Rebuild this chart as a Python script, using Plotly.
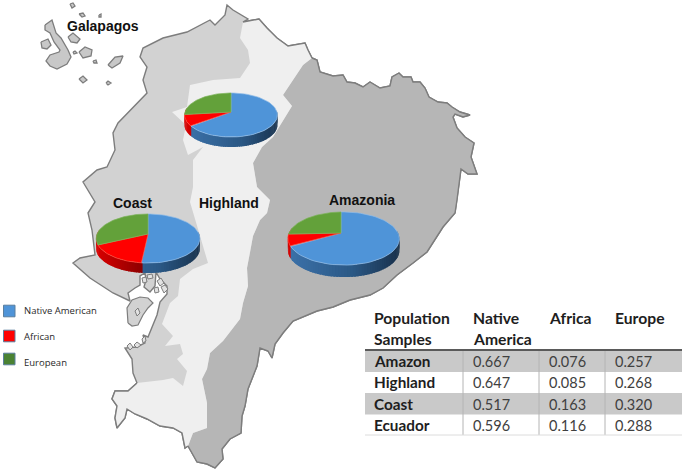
import numpy as np
import plotly.graph_objects as go

# ---------- data ----------
regions = ["Amazon", "Highland", "Coast", "Ecuador"]
native = [0.667, 0.647, 0.517, 0.596]
africa = [0.076, 0.085, 0.163, 0.116]
europe = [0.257, 0.268, 0.320, 0.288]
legend_labels = ["Native American", "African", "European"]
header_line1 = ["Population", "Native", "Africa", "Europe"]
header_line2 = ["Samples", "America", "", ""]
map_labels = ["Galapagos", "Coast", "Highland", "Amazonia"]

# ---------- map outlines (picture pixels) ----------
north_edge = [(243,22),(259,19),(267,28),(277,38),(288,46),(305,43),(308,50),(312,58)]
north_west = [(243,22),(248,19),(233,10),(227,5),(225,15),(215,25),(210,20),(187,32),(163,38),(143,48),(140,57),
              (147,67),(143,80),(147,93),(133,107),(118,123),(113,133),(115,150),(107,167),(97,170),(83,182)]
east_edge = [(312,58),(317,60),(320,72),(333,76),(343,75),(347,82),(355,83),(363,87),(370,82),(380,88),(390,86),
             (392,77),(399,73),(403,77),(411,77),(413,82),(420,82),(425,88),(429,97),(438,102),(447,103),(452,107),
             (460,112),(470,115),(463,117),(455,114),(453,117),(457,128),(465,137),(474,143),(471,157),(477,174),
             (468,174),(461,169),(457,200),(455,213),(443,227),(433,242),(427,252),(413,263),(397,275),(383,288),
             (370,295),(350,300),(333,307),(317,311),(293,321),(283,333),(275,344),(272,358),(268,351),(260,348),
             (257,366),(248,389),(245,406),(242,416),(241,433),(230,439),(222,449),(223,459),(215,468),(207,464),
             (197,462),(188,446)]
south_edge = [(188,446),(185,448),(182,433),(173,428),(160,426),(147,419),(135,414),(127,409),(125,418),(117,428),
              (115,418),(117,406),(112,399),(115,391),(128,391),(137,383)]
west_edge = [(137,383),(133,373),(132,359),(125,348),(137,347),(145,343),(143,335),(148,337),(153,325),(157,315),
             (160,302),(167,294),(167,286),(160,279),(156,272),(155,286),(150,292),(144,287),(146,280),(145,273),
             (140,276),(140,285),(135,288),(128,293),(130,301),(113,293),(90,278),(73,263),(80,258),(95,255),
             (92,230),(88,213),(95,202),(83,182)]
high_east = [(312,58),(303,65),(293,80),(283,95),(292,106),(273,137),(262,147),(253,163),(257,187),(270,200),(267,213),
             (260,220),(253,236),(250,253),(247,268),(248,286),(243,303),(240,319),(223,341),(210,353),(207,369),
             (202,379),(207,403),(207,428),(193,433),(188,446)]
high_west = [(137,383),(163,380),(173,378),(183,386),(187,371),(177,359),(183,354),(180,344),(165,346),(173,336),
             (162,324),(170,303),(178,296),(180,279),(193,269),(208,263),(200,236),(190,202),(193,187),(193,160),
             (203,147),(188,155),(183,140),(186,125),(172,112),(187,107),(190,85),(213,80),(240,78),(250,63),(248,50),
             (240,38),(243,22)]
puna = [(128,323),(127,308),(132,300),(140,297),(148,298),(153,303),(148,308),(143,315),(138,325),(132,326)]
islands = [
    [(45,25),(52,20),(56,33),(61,38),(68,50),(71,57),(67,64),(57,69),(50,66),(46,61),(50,55),(59,52),(60,50),(54,42),(50,33),(45,30)],
    [(41,42),(48,39),(51,45),(47,49),(42,48)],
    [(79,52),(85,47),(92,50),(91,56),(83,58)],
    [(68,37),(73,33),(80,39),(77,43),(71,42)],
    [(108,65),(115,57),(123,56),(120,63),(112,68)],
    [(79,79),(83,76),(87,80),(83,83)],
    [(106,83),(108,81),(111,83),(108,85)],
    [(70,4),(73,3),(75,6),(72,8)],
    [(79,14),(83,13),(85,16),(82,17)],
    [(99,15),(101,14),(101,17),(99,17)],
    [(73,52),(75,51),(77,53),(74,54)],
    [(93,61),(96,60),(97,63),(94,63)],
]
small_isles = [
    [(157,281),(161,278),(164,283),(160,286)], [(161,287),(165,285),(168,289),(164,293)],
    [(154,288),(158,287),(159,292),(155,293)], [(142,278),(146,277),(147,282),(143,283)],
    [(147,275),(152,274),(153,278),(148,279)], [(135,311),(138,308),(140,313),(137,316)],
    [(127,346),(130,343),(133,347),(130,350)], [(134,345),(137,342),(141,345),(137,348)],
    [(142,339),(145,336),(146,341),(143,343)],
]
EDGE = "#7d7d7d"


def poly(points, fill, line=None, width=0.0):
    xs, ys = zip(*points)
    return go.Scatter(x=list(xs) + [xs[0]], y=list(ys) + [ys[0]], mode="lines", fill="toself", fillcolor=fill,
                      line=dict(color=line or fill, width=width), hoverinfo="skip", showlegend=False)


def mix(c1, c2, t):
    a = [int(c1[i:i + 2], 16) for i in (1, 3, 5)]
    b = [int(c2[i:i + 2], 16) for i in (1, 3, 5)]
    return "#%02x%02x%02x" % tuple(round(p + (q - p) * t) for p, q in zip(a, b))


fig = go.Figure()
whole = north_edge[:-1] + east_edge + south_edge[1:] + west_edge[1:] + north_west[::-1]
fig.add_trace(poly(whole, "#d2d2d2", EDGE, 1.4))
fig.add_trace(poly(east_edge + high_east[::-1][1:], "#b6b6b6"))
fig.add_trace(poly(north_edge + high_east[1:] + south_edge[1:] + high_west[1:], "#efefef"))
for path, wd in ((north_edge, 1.4), (east_edge, 1.4), (south_edge, 1.4)):
    xs, ys = zip(*path)
    fig.add_trace(go.Scatter(x=xs, y=ys, mode="lines", line=dict(color=EDGE, width=wd), hoverinfo="skip", showlegend=False))
fig.add_trace(poly(puna, "#d2d2d2", EDGE, 1.2))
for isl in islands:
    fig.add_trace(poly(isl, "#c8c8c8", EDGE, 1.3))
for isl in small_isles:
    fig.add_trace(poly(isl, "#e2e2e2", EDGE, 1.0))

# ---------- perspective pies, drawn from the table values ----------
BLUE, RED, GREEN = "#4f94d8", "#ff0000", "#63a13a"
pies = {
    "Amazon": dict(cx=341, cy=233, a=54.4, k=25.4, p=0.2075, q=0.046, depth=12),
    "Highland": dict(cx=231, cy=112, a=46, k=21.6, p=0.136, q=0.0, depth=10),
    "Coast": dict(cx=148, cy=234, a=51, k=23.7, p=0.184, q=0.0, depth=10),
}


def rim(g, deg):
    th = np.radians(deg)
    u, v = np.sin(th), -np.cos(th)
    w = 1 - g["p"] * v - g["q"] * u
    return g["cx"] + g["a"] * u / w, g["cy"] + g["k"] * v / w


for name, g in pies.items():
    i = regions.index(name)
    shares = [native[i], africa[i], europe[i]]
    edges = np.cumsum([0] + shares) * 360
    left, right = g["cx"] - g["a"], g["cx"] + g["a"]
    # side wall: each strip overlaps the previous one so no seams show
    step = 2.5
    for d0 in np.arange(85, 280, step):
        d1 = d0 + step * 1.6
        xa, ya = rim(g, d0)
        xb, yb = rim(g, d1)
        t = ((xa + xb) / 2 - left) / (right - left)
        mid = d0 + step / 2
        if mid < edges[1]:
            col = mix("#3c72aa", "#2b5885", t / 0.6) if t < 0.6 else mix("#2b5885", "#1a3450", (t - 0.6) / 0.4)
        else:
            col = mix("#d80000", "#8a0000", min(1, t / 0.45))
        fig.add_trace(poly([(xa, ya), (xb, yb), (xb, yb + g["depth"]), (xa, ya + g["depth"])], col))
    # top faces
    for s, col, hl in zip(range(3), (BLUE, RED, GREEN), ("#8fbce8", "#ff4a3a", "#7db35a")):
        arc = [rim(g, d) for d in np.linspace(edges[s], edges[s + 1], 60)]
        fig.add_trace(poly([(g["cx"], g["cy"])] + arc, col, hl, 0.7))

# ---------- legend ----------
shapes = []
for lab, col, yc in zip(legend_labels, (BLUE, RED, "#4a8233"), (311, 336, 359)):
    shapes.append(dict(type="rect", xref="x", yref="y", x0=3.5, x1=15, y0=yc - 5.8, y1=yc + 5.8,
                       fillcolor=col, line=dict(color="#5b7f9e", width=1)))

# ---------- table ----------
col_x = [373, 472, 548, 614]
row_y = [361, 382, 404, 425]
for y0, y1 in ((351, 372), (393, 414.5)):
    shapes.append(dict(type="rect", xref="x", yref="y", x0=365, x1=682, y0=y0, y1=y1,
                       fillcolor="#c9c9c9", line=dict(width=0), layer="below"))
for vx in (463, 539, 605):
    shapes.append(dict(type="line", xref="x", yref="y", x0=vx, x1=vx, y0=351, y1=435, line=dict(color="#b4b4b4", width=1)))
shapes.append(dict(type="line", xref="x", yref="y", x0=365, x1=682, y0=350, y1=350, line=dict(color="#5a5a5a", width=2)))
shapes.append(dict(type="line", xref="x", yref="y", x0=365, x1=682, y0=435, y1=435, line=dict(color="#dcdcdc", width=1)))

ann = []


def text(x, y, s, size, color, family, anchor="left"):
    ann.append(dict(x=x, y=y, xref="x", yref="y", text=s, showarrow=False, xanchor=anchor, yanchor="middle",
                    xshift=-1, font=dict(size=size, color=color, family=family)))


TBL = "Lato, Noto Sans, sans-serif"
for x, h1, h2 in zip(col_x, header_line1, header_line2):
    text(x, 318, "<b>%s</b>" % h1, 15.7, "#1e1e1e", TBL)
    if h2:
        text(x, 339, "<b>%s</b>" % h2, 15.7, "#1e1e1e", TBL)
for r, y in enumerate(row_y):
    text(col_x[0], y, "<b>%s</b>" % regions[r], 15.3, "#1e1e1e", TBL)
    for x, series in zip(col_x[1:], (native, africa, europe)):
        text(x, y, "%.3f" % series[r], 14.5, "#404040", TBL)
for lab, y in zip(legend_labels, (310, 336, 362)):
    text(23, y, lab, 9.5, "#2a2a2a", "Open Sans, sans-serif")
for lab, (x, y) in zip(map_labels, ((104, 26), (133.5, 203), (230, 203), (363, 200))):
    text(x, y, "<b>%s</b>" % lab, 14, "#111111", "Liberation Sans, Arial, sans-serif", "center")

fig.update_layout(width=685, height=472, margin=dict(l=0, r=0, t=0, b=0), paper_bgcolor="white", plot_bgcolor="white",
                  showlegend=False, shapes=shapes, annotations=ann,
                  xaxis=dict(range=[0, 685], visible=False, fixedrange=True),
                  yaxis=dict(range=[472, 0], visible=False, fixedrange=True))
fig.write_html("out.html", config={"displayModeBar": False},
               post_script="document.body.style.margin='0';document.body.style.overflow='hidden';")
